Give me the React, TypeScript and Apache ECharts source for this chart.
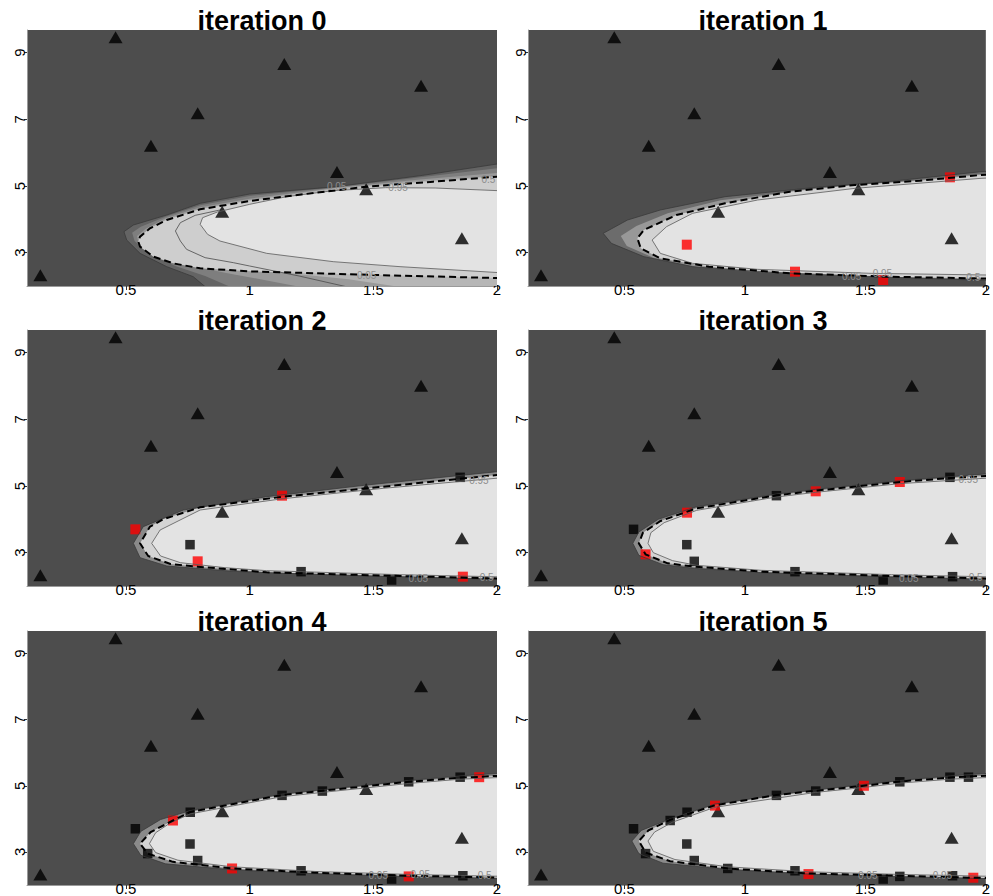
import React, { useEffect, useRef } from 'react';
import * as echarts from 'echarts';

const titles = ['iteration 0', 'iteration 1', 'iteration 2', 'iteration 3', 'iteration 4', 'iteration 5'];
const xTicks = [0.5, 1, 1.5, 2];
const yTicks = [3, 5, 7, 9];

// black triangles (same in every panel)
const triangles = [
  [0.458, 9.46], [1.14, 8.66], [1.693, 8.01], [0.79, 7.18], [0.601, 6.21],
  [1.353, 5.42], [1.471, 4.9], [0.889, 4.23], [1.858, 3.43], [0.154, 2.32],
];

// points added at each iteration (red in their own iteration, black afterwards)
const added1 = [[0.759, 3.24], [1.208, 2.43], [1.574, 2.18], [1.851, 5.26]];
const added2 = [[0.538, 3.7], [0.79, 2.74], [1.131, 4.71], [1.862, 2.28]];
const added3 = [[0.76, 4.2], [0.588, 2.95], [1.294, 4.84], [1.643, 5.12]];
const added4 = [[0.69, 3.95], [0.929, 2.5], [1.643, 2.26], [1.928, 5.26]];
const added5 = [[0.876, 4.4], [1.494, 5.0], [1.264, 2.33], [1.948, 2.22]];
const addedByIteration = [[], added1, added2, added3, added4, added5];

// contour p = 0.05 (outer)
const c05_0 = [[2.1, 5.74], [2.0, 5.66], [1.7, 5.32], [1.35, 4.98], [1.0, 4.76], [0.8, 4.48], [0.665, 4.13], [0.53, 3.83], [0.492, 3.63], [0.503, 3.38], [0.557, 2.98], [0.665, 2.58], [0.772, 2.28], [0.82, 1.98], [0.85, 1.7], [2.1, 1.7]];
const c05_1 = [[2.1, 5.48], [1.98, 5.43], [1.592, 5.13], [1.322, 4.98], [0.918, 4.68], [0.649, 4.28], [0.513, 3.98], [0.412, 3.58], [0.446, 3.28], [0.581, 2.88], [0.783, 2.58], [1.053, 2.43], [1.457, 2.3], [1.861, 2.2], [2.1, 2.15]];
const c05_2 = [[2.1, 5.46], [2.0, 5.43], [1.473, 5.03], [1.069, 4.68], [0.732, 4.28], [0.57, 3.78], [0.53, 3.28], [0.557, 2.85], [0.665, 2.6], [0.934, 2.44], [1.338, 2.33], [2.0, 2.2], [2.1, 2.18]];
const c05_3 = [[2.1, 5.42], [1.643, 5.16], [1.294, 4.9], [1.131, 4.76], [0.8, 4.38], [0.64, 4.0], [0.56, 3.62], [0.535, 3.28], [0.56, 2.92], [0.66, 2.64], [0.79, 2.53], [1.069, 2.4], [1.608, 2.27], [2.1, 2.18]];
const c05_4 = [[2.1, 5.42], [1.854, 5.3], [1.643, 5.16], [1.294, 4.88], [1.131, 4.75], [0.76, 4.25], [0.64, 3.98], [0.56, 3.62], [0.53, 3.25], [0.56, 2.9], [0.66, 2.64], [0.929, 2.46], [1.264, 2.34], [1.643, 2.25], [2.1, 2.18]];
const c05_5 = [[2.1, 5.42], [1.854, 5.3], [1.643, 5.16], [1.494, 5.04], [1.294, 4.88], [0.876, 4.45], [0.69, 4.0], [0.57, 3.65], [0.531, 3.33], [0.56, 2.95], [0.66, 2.66], [0.929, 2.47], [1.264, 2.33], [1.643, 2.25], [2.1, 2.18]];

// contour p = 0.5 (dashed)
const c50_0 = [[2.1, 5.32], [2.0, 5.28], [1.742, 5.13], [1.473, 4.98], [1.136, 4.68], [1.0, 4.55], [0.8, 4.3], [0.665, 3.98], [0.597, 3.73], [0.557, 3.48], [0.55, 3.33], [0.557, 3.18], [0.611, 2.88], [0.691, 2.68], [0.8, 2.53], [1.0, 2.44], [1.507, 2.33], [2.1, 2.22]];
const c50_1 = [[2.1, 5.36], [1.98, 5.33], [1.726, 5.16], [1.457, 5.03], [1.187, 4.83], [0.918, 4.48], [0.716, 4.13], [0.581, 3.68], [0.554, 3.43], [0.568, 3.13], [0.649, 2.83], [0.851, 2.58], [1.187, 2.38], [1.592, 2.28], [2.1, 2.21]];
const c50_2 = [[2.1, 5.35], [2.0, 5.33], [1.54, 4.98], [1.136, 4.68], [0.8, 4.36], [0.65, 4.0], [0.597, 3.78], [0.557, 3.28], [0.59, 2.9], [0.68, 2.66], [0.79, 2.58], [1.069, 2.41], [1.608, 2.3], [2.1, 2.21]];
const c50_3 = [[2.1, 5.34], [1.854, 5.24], [1.643, 5.12], [1.294, 4.86], [1.131, 4.72], [0.8, 4.33], [0.65, 3.95], [0.577, 3.6], [0.56, 3.28], [0.588, 2.95], [0.68, 2.68], [0.79, 2.58], [1.069, 2.43], [1.608, 2.3], [2.1, 2.21]];
const c50_4 = [[2.1, 5.34], [1.928, 5.27], [1.854, 5.25], [1.643, 5.12], [1.294, 4.85], [1.131, 4.72], [0.76, 4.21], [0.69, 3.95], [0.6, 3.6], [0.557, 3.25], [0.588, 2.95], [0.69, 2.7], [0.929, 2.5], [1.264, 2.37], [1.643, 2.28], [2.1, 2.21]];
const c50_5 = [[2.1, 5.34], [1.928, 5.28], [1.854, 5.25], [1.643, 5.13], [1.494, 5.0], [1.294, 4.85], [1.131, 4.72], [0.876, 4.41], [0.69, 3.97], [0.6, 3.65], [0.56, 3.33], [0.588, 2.98], [0.69, 2.72], [0.929, 2.5], [1.264, 2.35], [1.643, 2.28], [1.948, 2.22], [2.1, 2.2]];

// contour p = 0.95 (inner)
const c95_0 = [[2.1, 4.83], [1.75, 4.94], [1.55, 4.95], [1.338, 4.86], [1.15, 4.68], [1.0, 4.45], [0.87, 4.22], [0.81, 4.05], [0.8, 3.85], [0.83, 3.55], [0.88, 3.35], [1.069, 2.98], [1.338, 2.73], [1.608, 2.58], [2.1, 2.36]];
const c95_1 = [[2.1, 5.27], [1.98, 5.23], [1.457, 4.93], [1.053, 4.58], [0.783, 4.18], [0.675, 3.78], [0.615, 3.38], [0.649, 2.98], [0.783, 2.68], [1.053, 2.5], [1.524, 2.38], [2.1, 2.32]];
const c95_2 = [[2.1, 5.3], [1.54, 4.93], [1.136, 4.62], [0.8, 4.28], [0.638, 3.68], [0.604, 3.28], [0.64, 2.9], [0.72, 2.7], [0.9, 2.55], [1.069, 2.46], [1.608, 2.34], [2.1, 2.26]];
const c95_3 = [[2.1, 5.28], [1.643, 5.07], [1.294, 4.81], [1.131, 4.67], [0.8, 4.27], [0.665, 3.9], [0.61, 3.6], [0.598, 3.28], [0.62, 3.0], [0.7, 2.76], [0.8, 2.62], [1.069, 2.47], [1.608, 2.34], [2.1, 2.26]];
const c95_4 = [[2.1, 5.28], [1.854, 5.2], [1.643, 5.07], [1.294, 4.8], [1.131, 4.67], [0.76, 4.15], [0.68, 3.88], [0.62, 3.58], [0.595, 3.25], [0.62, 2.98], [0.71, 2.75], [0.929, 2.55], [1.264, 2.41], [1.643, 2.32], [2.1, 2.25]];
const c95_5 = [[2.1, 5.28], [1.854, 5.2], [1.643, 5.08], [1.494, 4.95], [1.294, 4.8], [0.876, 4.35], [0.7, 3.9], [0.625, 3.6], [0.598, 3.33], [0.62, 3.02], [0.71, 2.77], [0.929, 2.55], [1.264, 2.4], [1.643, 2.32], [2.1, 2.25]];

// extra thin contour in iteration 0
const cMid_0 = [[0.88, 4.28], [0.78, 4.12], [0.72, 3.9], [0.7, 3.65], [0.72, 3.35], [0.745, 3.1], [0.82, 2.85], [0.934, 2.7], [1.0, 2.6], [1.2, 2.3], [1.39, 1.98], [1.45, 1.9]];

// shading bands of the filled probability surface
const band0a = [[2.1, 5.62], [1.7, 5.27], [1.35, 4.96], [1.0, 4.7], [0.8, 4.42], [0.66, 4.08], [0.56, 3.78], [0.525, 3.6], [0.535, 3.35], [0.59, 2.98], [0.7, 2.6], [0.82, 2.3], [0.92, 1.98], [0.95, 1.7], [2.1, 1.7]];
const band0b = [[2.1, 5.45], [1.7, 5.2], [1.35, 4.95], [1.0, 4.62], [0.8, 4.36], [0.66, 4.03], [0.58, 3.72], [0.545, 3.5], [0.55, 3.3], [0.6, 3.0], [0.72, 2.68], [0.9, 2.4], [1.08, 2.15], [1.2, 1.98], [1.25, 1.7], [2.1, 1.7]];
const band0c = [[2.1, 5.36], [1.7, 5.15], [1.35, 4.93], [1.0, 4.58], [0.8, 4.32], [0.66, 3.99], [0.59, 3.7], [0.56, 3.48], [0.56, 3.3], [0.61, 3.0], [0.75, 2.7], [1.0, 2.5], [1.4, 2.2], [1.6, 1.98], [1.65, 1.7], [2.1, 1.7]];
const band1a = [[2.1, 5.44], [1.6, 5.1], [1.3, 4.93], [0.9, 4.57], [0.68, 4.18], [0.55, 3.8], [0.485, 3.5], [0.51, 3.2], [0.62, 2.85], [0.8, 2.58], [1.05, 2.42], [1.46, 2.29], [2.1, 2.18]];

const outer = [c05_0, c05_1, c05_2, c05_3, c05_4, c05_5];
const middle = [c50_0, c50_1, c50_2, c50_3, c50_4, c50_5];
const inner = [c95_0, c95_1, c95_2, c95_3, c95_4, c95_5];

// contour labels: [x, y, text]
const labels0 = [[1.352, 4.98, '0.05'], [1.6, 4.96, '0.95'], [1.965, 5.21, '0.5'], [1.473, 2.33, '0.05']];
const labels1 = [[1.443, 2.28, '0.05'], [1.571, 2.37, '0.95'], [1.948, 2.25, '0.5']];
const labels2 = [[1.927, 5.18, '0.95'], [1.682, 2.24, '0.05'], [1.958, 2.27, '0.5']];
const labels3 = [[1.927, 5.2, '0.95'], [1.68, 2.24, '0.05'], [1.958, 2.27, '0.5']];
const labels4 = [[1.52, 2.3, '0.05'], [1.69, 2.32, '0.95'], [1.95, 2.28, '0.5']];
const labels5 = [[1.51, 2.29, '0.05'], [1.82, 2.29, '0.95']];
const contourLabels = [labels0, labels1, labels2, labels3, labels4, labels5];

const FONT = '"Liberation Sans", Arial, Helvetica, sans-serif';
const gridLefts = [27, 528];
const gridTops = [30, 330, 631];
const GRID_W = 470;
const GRID_H = 256;

// fill layers per panel, outermost first
const fillLayers: [number[][], string][][] = [
  [[c05_0, '#646464'], [band0a, '#7e7e7e'], [band0b, '#9a9a9a'], [band0c, '#b6b6b6'], [c50_0, '#cecece'], [c95_0, '#e3e3e3']],
  [[c05_1, '#6c6c6c'], [band1a, '#989898'], [c50_1, '#d2d2d2'], [c95_1, '#e3e3e3']],
  [[c05_2, '#8a8a8a'], [c50_2, '#d4d4d4'], [c95_2, '#e3e3e3']],
  [[c05_3, '#8a8a8a'], [c50_3, '#d4d4d4'], [c95_3, '#e3e3e3']],
  [[c05_4, '#8a8a8a'], [c50_4, '#d4d4d4'], [c95_4, '#e3e3e3']],
  [[c05_5, '#8a8a8a'], [c50_5, '#d4d4d4'], [c95_5, '#e3e3e3']],
];

function polygonSeries(i: number, pts: number[][], fill: string, z: number) {
  return {
    type: 'custom', xAxisIndex: i, yAxisIndex: i, clip: true, silent: true, z,
    data: [pts[Math.floor(pts.length / 2)]],
    renderItem: (_p: any, api: any) => ({
      type: 'polygon',
      shape: { points: pts.map((p) => api.coord(p)) },
      style: { fill, stroke: null },
    }),
  };
}

function lineSeries(i: number, pts: number[][], stroke: string, width: number, dash: number[] | null, z: number) {
  return {
    type: 'custom', xAxisIndex: i, yAxisIndex: i, clip: true, silent: true, z,
    data: [pts[Math.floor(pts.length / 2)]],
    renderItem: (_p: any, api: any) => ({
      type: 'polyline',
      shape: { points: pts.map((p) => api.coord(p)) },
      style: { fill: null, stroke, lineWidth: width, lineDash: dash || undefined },
    }),
  };
}

function labelSeries(i: number, labs: any[][]) {
  return {
    type: 'custom', xAxisIndex: i, yAxisIndex: i, clip: true, silent: true, z: 6,
    data: labs.map((l) => [l[0], l[1]]),
    renderItem: (p: any, api: any) => {
      const l = labs[p.dataIndex];
      const c = api.coord([l[0], l[1]]);
      return {
        type: 'text', x: c[0], y: c[1],
        style: { text: l[2], fill: '#8c8c8c', fontSize: 10, fontFamily: FONT, align: 'center', verticalAlign: 'middle' },
      };
    },
  };
}

export default function App() {
  const ref = useRef<HTMLDivElement>(null);
  useEffect(() => {
    if (!ref.current) return;
    const chart = echarts.init(ref.current, null, { renderer: 'svg' });
    const grids: any[] = [];
    const xAxes: any[] = [];
    const yAxes: any[] = [];
    const series: any[] = [];
    const graphics: any[] = [];
    for (let i = 0; i < 6; i++) {
      const col = i % 2;
      const row = Math.floor(i / 2);
      const left = gridLefts[col];
      const top = gridTops[row];
      grids.push({ left, top, width: GRID_W, height: GRID_H, show: true, backgroundColor: '#4d4d4d', borderWidth: 0 });
      xAxes.push({
        gridIndex: i, type: 'value', min: 0.1, max: 2,
        axisLine: { show: true, onZero: false, lineStyle: { color: '#9a9a9a', width: 1 } },
        axisTick: { show: true, length: 4, customValues: xTicks, lineStyle: { color: '#333' } },
        axisLabel: { customValues: xTicks, fontSize: 15, color: '#000', margin: -4, fontFamily: FONT },
        splitLine: { show: false },
      });
      yAxes.push({
        gridIndex: i, type: 'value', min: 2, max: 9.68,
        axisLine: { show: true, onZero: false, lineStyle: { color: '#9a9a9a', width: 1 } },
        axisTick: { show: true, length: 3, customValues: yTicks, lineStyle: { color: '#333' } },
        axisLabel: { customValues: yTicks, rotate: 90, fontSize: 15, color: '#000', margin: 0, fontFamily: FONT },
        splitLine: { show: false },
      });
      fillLayers[i].forEach(([pts, color], k) => series.push(polygonSeries(i, pts, color, 1 + k * 0.1)));
      series.push({
        type: 'scatter', xAxisIndex: i, yAxisIndex: i, data: triangles, symbol: 'triangle',
        symbolSize: [14, 12], itemStyle: { color: '#000' }, z: 3, silent: true,
      });
      const black: number[][] = [];
      for (let k = 1; k < i; k++) black.push(...addedByIteration[k]);
      if (black.length) {
        series.push({
          type: 'scatter', xAxisIndex: i, yAxisIndex: i, data: black, symbol: 'rect',
          symbolSize: 9.5, itemStyle: { color: '#000' }, z: 3, silent: true,
        });
      }
      if (addedByIteration[i].length) {
        series.push({
          type: 'scatter', xAxisIndex: i, yAxisIndex: i, data: addedByIteration[i], symbol: 'rect',
          symbolSize: 10, itemStyle: { color: '#ff0000' }, z: 3.1, silent: true,
        });
      }
      series.push(lineSeries(i, outer[i], '#3a3a3a', 0.8, null, 4));
      series.push(lineSeries(i, inner[i], '#5a5a5a', 0.8, null, 4));
      if (i === 0) series.push(lineSeries(i, cMid_0, '#4a4a4a', 0.8, null, 4));
      series.push(lineSeries(i, middle[i], '#000', 2, [7, 4], 5));
      series.push(labelSeries(i, contourLabels[i]));
      graphics.push({
        type: 'text', x: left + GRID_W / 2, y: top - 9,
        style: { text: titles[i], fontSize: 27, fontWeight: 'bold', fontFamily: FONT, fill: '#000', align: 'center', verticalAlign: 'middle' },
        z: 10,
      });
    }
    chart.setOption({
      animation: false,
      backgroundColor: '#ffffff',
      grid: grids,
      xAxis: xAxes,
      yAxis: yAxes,
      series,
      graphic: graphics,
    });
    return () => chart.dispose();
  }, []);
  return <div ref={ref} style={{ position: 'absolute', left: 0, top: 0, width: 993, height: 896 }} />;
}
